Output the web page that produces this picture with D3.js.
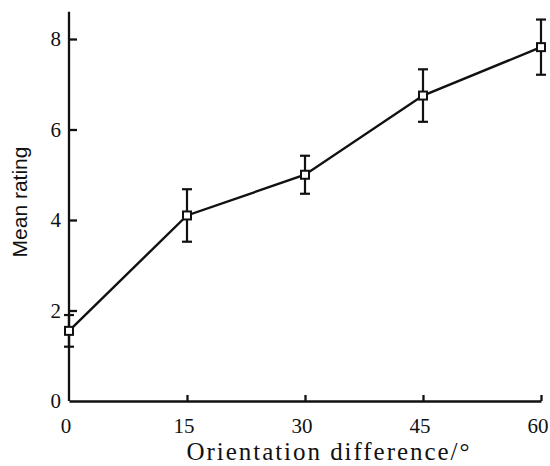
<!DOCTYPE html>
<html>
<head>
<meta charset="utf-8">
<script src="https://cdn.jsdelivr.net/npm/d3@7"></script>
<style>
  body { margin: 0; background: #fff; }
  svg { display: block; }
</style>
</head>
<body>
<div class="container"></div>
<script>
// values
var orientation = [0, 15, 30, 45, 60];
var mean_rating = [1.55, 4.1, 5.0, 6.75, 7.82];
var error_size  = [0.35, 0.58, 0.42, 0.58, 0.61];
var x_ticks = [0, 15, 30, 45, 60];
var y_ticks = [0, 2, 4, 6, 8];

var width = 550, height = 466;

var x_scale = d3.scaleLinear().domain([0, 60]).range([69, 541]);
var y_scale = d3.scaleLinear().domain([0, 8]).range([401, 39]);

var svg = d3.select("div.container").append("svg")
    .attr("width", width)
    .attr("height", height);

var data = orientation.map(function(d, i) {
  return {x: d, y: mean_rating[i], e: error_size[i]};
});

// axes, ticks pointing inwards
var x_axis = svg.append("g")
    .attr("transform", "translate(0," + y_scale(0) + ")")
    .call(d3.axisTop(x_scale).tickValues(x_ticks).tickSize(6).tickSizeOuter(0).tickFormat(""));

var y_axis = svg.append("g")
    .attr("transform", "translate(" + x_scale(0) + ",0)")
    .call(d3.axisRight(y_scale).tickValues(y_ticks).tickSize(8).tickSizeOuter(0).tickFormat(""));

// y axis runs a little above the last tick
y_axis.select(".domain").attr("d", "M0," + y_scale(0) + "V" + y_scale(8.6));

svg.selectAll(".domain, .tick line")
    .attr("stroke", "#111")
    .attr("stroke-width", 2.3);
x_axis.selectAll(".tick").filter(function(d) { return d === 0; }).remove();
y_axis.selectAll(".tick").filter(function(d) { return d === 0; }).remove();

// tick labels
svg.append("g").selectAll("text")
    .data(x_ticks)
  .enter().append("text")
    .attr("x", function(d) { return x_scale(d) - 3; })
    .attr("y", 433)
    .attr("text-anchor", "middle")
    .attr("font-family", "Liberation Serif, serif")
    .attr("font-size", 21)
    .attr("fill", "#111")
    .text(function(d) { return d; });

svg.append("g").selectAll("text")
    .data(y_ticks)
  .enter().append("text")
    .attr("x", 61)
    .attr("y", function(d) { return y_scale(d) + 7; })
    .attr("text-anchor", "end")
    .attr("font-family", "Liberation Serif, serif")
    .attr("font-size", 21)
    .attr("fill", "#111")
    .text(function(d) { return d; });

// axis titles
svg.append("text")
    .attr("x", 328)
    .attr("y", 460)
    .attr("text-anchor", "middle")
    .attr("font-family", "Liberation Serif, serif")
    .attr("font-size", 25)
    .attr("textLength", 283)
    .attr("lengthAdjust", "spacing")
    .attr("fill", "#111")
    .text("Orientation difference/\u00b0");

svg.append("text")
    .attr("transform", "translate(27,202) rotate(-90)")
    .attr("text-anchor", "middle")
    .attr("font-family", "Liberation Sans, Arial, sans-serif")
    .attr("font-size", 21)
    .attr("fill", "#111")
    .text("Mean rating");

// connecting line
var line = d3.line()
    .x(function(d) { return x_scale(d.x); })
    .y(function(d) { return y_scale(d.y); });

svg.append("path")
    .datum(data)
    .attr("fill", "none")
    .attr("stroke", "#111")
    .attr("stroke-width", 2.4)
    .attr("d", line);

// error bars
var bars = svg.append("g").selectAll("g")
    .data(data)
  .enter().append("g")
    .attr("stroke", "#111")
    .attr("stroke-width", 2.2);

bars.append("line")
    .attr("x1", function(d) { return x_scale(d.x); })
    .attr("x2", function(d) { return x_scale(d.x); })
    .attr("y1", function(d) { return y_scale(d.y + d.e); })
    .attr("y2", function(d) { return y_scale(d.y - d.e); });

bars.append("line")
    .attr("x1", function(d) { return x_scale(d.x) - 5; })
    .attr("x2", function(d) { return x_scale(d.x) + 5; })
    .attr("y1", function(d) { return y_scale(d.y + d.e); })
    .attr("y2", function(d) { return y_scale(d.y + d.e); });

bars.append("line")
    .attr("x1", function(d) { return x_scale(d.x) - 5; })
    .attr("x2", function(d) { return x_scale(d.x) + 5; })
    .attr("y1", function(d) { return y_scale(d.y - d.e); })
    .attr("y2", function(d) { return y_scale(d.y - d.e); });

// open square markers
svg.append("g").selectAll("rect")
    .data(data)
  .enter().append("rect")
    .attr("x", function(d) { return x_scale(d.x) - 4; })
    .attr("y", function(d) { return y_scale(d.y) - 4; })
    .attr("width", 8)
    .attr("height", 8)
    .attr("fill", "#fff")
    .attr("stroke", "#111")
    .attr("stroke-width", 2);
</script>
</body>
</html>
